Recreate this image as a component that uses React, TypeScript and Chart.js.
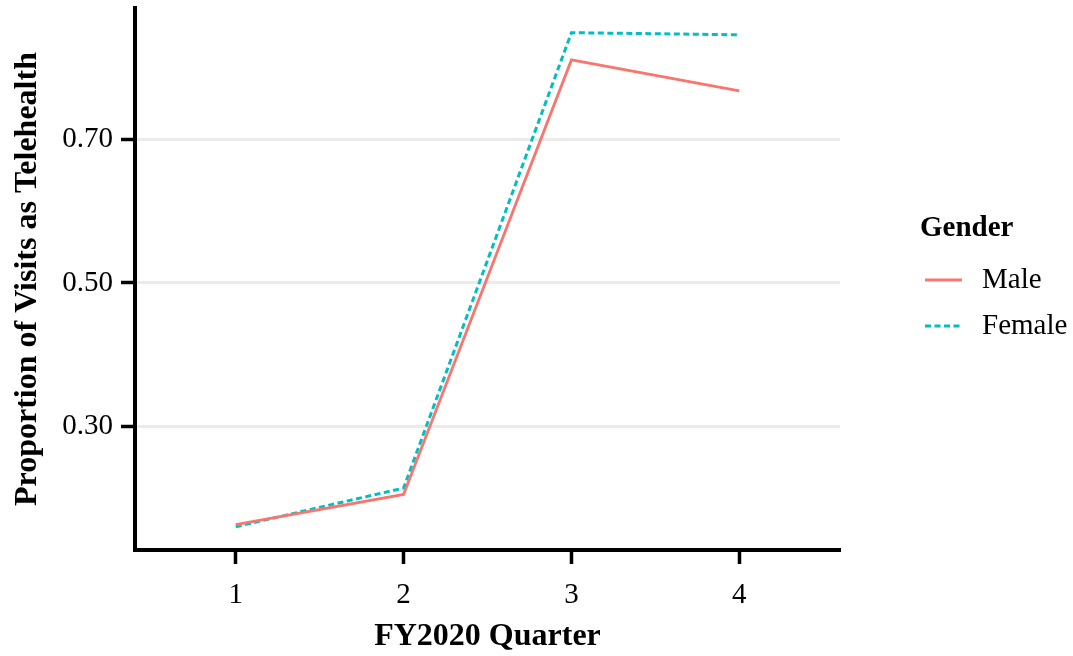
import React, { useEffect, useRef } from "react";
import { Chart, registerables } from "chart.js";

Chart.register(...registerables);

const quarters = [1, 2, 3, 4];
const maleValues = [0.163, 0.205, 0.811, 0.768];
const femaleValues = [0.16, 0.214, 0.849, 0.846];
const yTickValues = [0.3, 0.5, 0.7];
const seriesNames = ["Male", "Female"];
const legendTitle = "Gender";
const xTitle = "FY2020 Quarter";
const yTitle = "Proportion of Visits as Telehealth";

const SERIF = "'Liberation Serif', 'Times New Roman', serif";
const MALE_COLOR = "#F8766D";
const FEMALE_COLOR = "#00BFC4";

const legendPlugin = {
  id: "ggLegend",
  afterDraw(chart: any) {
    const ctx = chart.ctx;
    ctx.save();
    ctx.textBaseline = "middle";
    ctx.textAlign = "left";
    ctx.fillStyle = "#000";
    ctx.font = `bold 29px ${SERIF}`;
    ctx.fillText(legendTitle, 920, 229);
    const items = [
      { name: seriesNames[0], color: MALE_COLOR, dash: [] as number[], y: 280 },
      { name: seriesNames[1], color: FEMALE_COLOR, dash: [6, 3.5], y: 326 },
    ];
    items.forEach((it) => {
      ctx.beginPath();
      ctx.setLineDash(it.dash);
      ctx.strokeStyle = it.color;
      ctx.lineWidth = 2.8;
      ctx.moveTo(925, it.y);
      ctx.lineTo(962, it.y);
      ctx.stroke();
      ctx.setLineDash([]);
      ctx.fillStyle = "#000";
      ctx.font = `29px ${SERIF}`;
      ctx.fillText(it.name, 982, it.y);
    });
    ctx.restore();
  },
};

export default function App() {
  const ref = useRef<HTMLCanvasElement | null>(null);
  useEffect(() => {
    if (!ref.current) return;
    const chart = new Chart(ref.current, {
      type: "line",
      data: {
        datasets: [
          {
            label: seriesNames[0],
            data: quarters.map((q, i) => ({ x: q, y: maleValues[i] })),
            borderColor: MALE_COLOR,
            borderWidth: 2.8,
            pointRadius: 0,
            fill: false,
            tension: 0,
          },
          {
            label: seriesNames[1],
            data: quarters.map((q, i) => ({ x: q, y: femaleValues[i] })),
            borderColor: FEMALE_COLOR,
            borderWidth: 3,
            borderDash: [6, 3.5],
            pointRadius: 0,
            fill: false,
            tension: 0,
          },
        ],
      },
      options: {
        animation: false,
        responsive: false,
        devicePixelRatio: 1,
        layout: { padding: { top: 8, right: 233, left: 0, bottom: 0 } },
        plugins: { legend: { display: false }, tooltip: { enabled: false } },
        scales: {
          x: {
            type: "linear",
            min: 0.4,
            max: 4.6,
            afterBuildTicks: (scale: any) => {
              scale.ticks = quarters.map((v) => ({ value: v }));
            },
            afterFit: (scale: any) => {
              scale.height = 106;
              scale.paddingLeft = 0;
              scale.paddingRight = 0;
            },
            ticks: {
              color: "#000",
              font: { family: SERIF, size: 29 },
              padding: 14,
              maxRotation: 0,
              callback: (v: any) => String(v),
            },
            grid: {
              drawOnChartArea: false,
              drawTicks: true,
              tickLength: 14,
              tickColor: "#000",
              tickWidth: 3.5,
            },
            border: { display: true, color: "#000", width: 4 },
            title: {
              display: true,
              text: xTitle,
              color: "#000",
              font: { family: SERIF, size: 32, weight: "bold" },
              padding: { top: 0, bottom: 0 },
            },
          },
          y: {
            type: "linear",
            min: 0.1276,
            max: 0.8834,
            afterBuildTicks: (scale: any) => {
              scale.ticks = yTickValues.map((v) => ({ value: v }));
            },
            afterFit: (scale: any) => {
              scale.width = 135;
              scale.paddingTop = 0;
              scale.paddingBottom = 0;
            },
            ticks: {
              color: "#000",
              font: { family: SERIF, size: 29 },
              padding: 8,
              callback: (v: any) => Number(v).toFixed(2),
            },
            grid: {
              color: "#EBEBEB",
              lineWidth: 3,
              drawTicks: true,
              tickLength: 14,
              tickColor: "#000",
              tickWidth: 3.5,
            },
            border: { display: true, color: "#000", width: 4 },
            title: {
              display: true,
              text: yTitle,
              color: "#000",
              font: { family: SERIF, size: 32, weight: "bold" },
              padding: { top: 9, bottom: 0 },
            },
          },
        },
      },
      plugins: [legendPlugin],
    } as any);
    return () => chart.destroy();
  }, []);
  return (
    <div style={{ position: "fixed", left: 0, top: 0, width: 1073, height: 656, background: "#fff" }}>
      <canvas ref={ref} width={1073} height={656} style={{ display: "block" }} />
    </div>
  );
}
